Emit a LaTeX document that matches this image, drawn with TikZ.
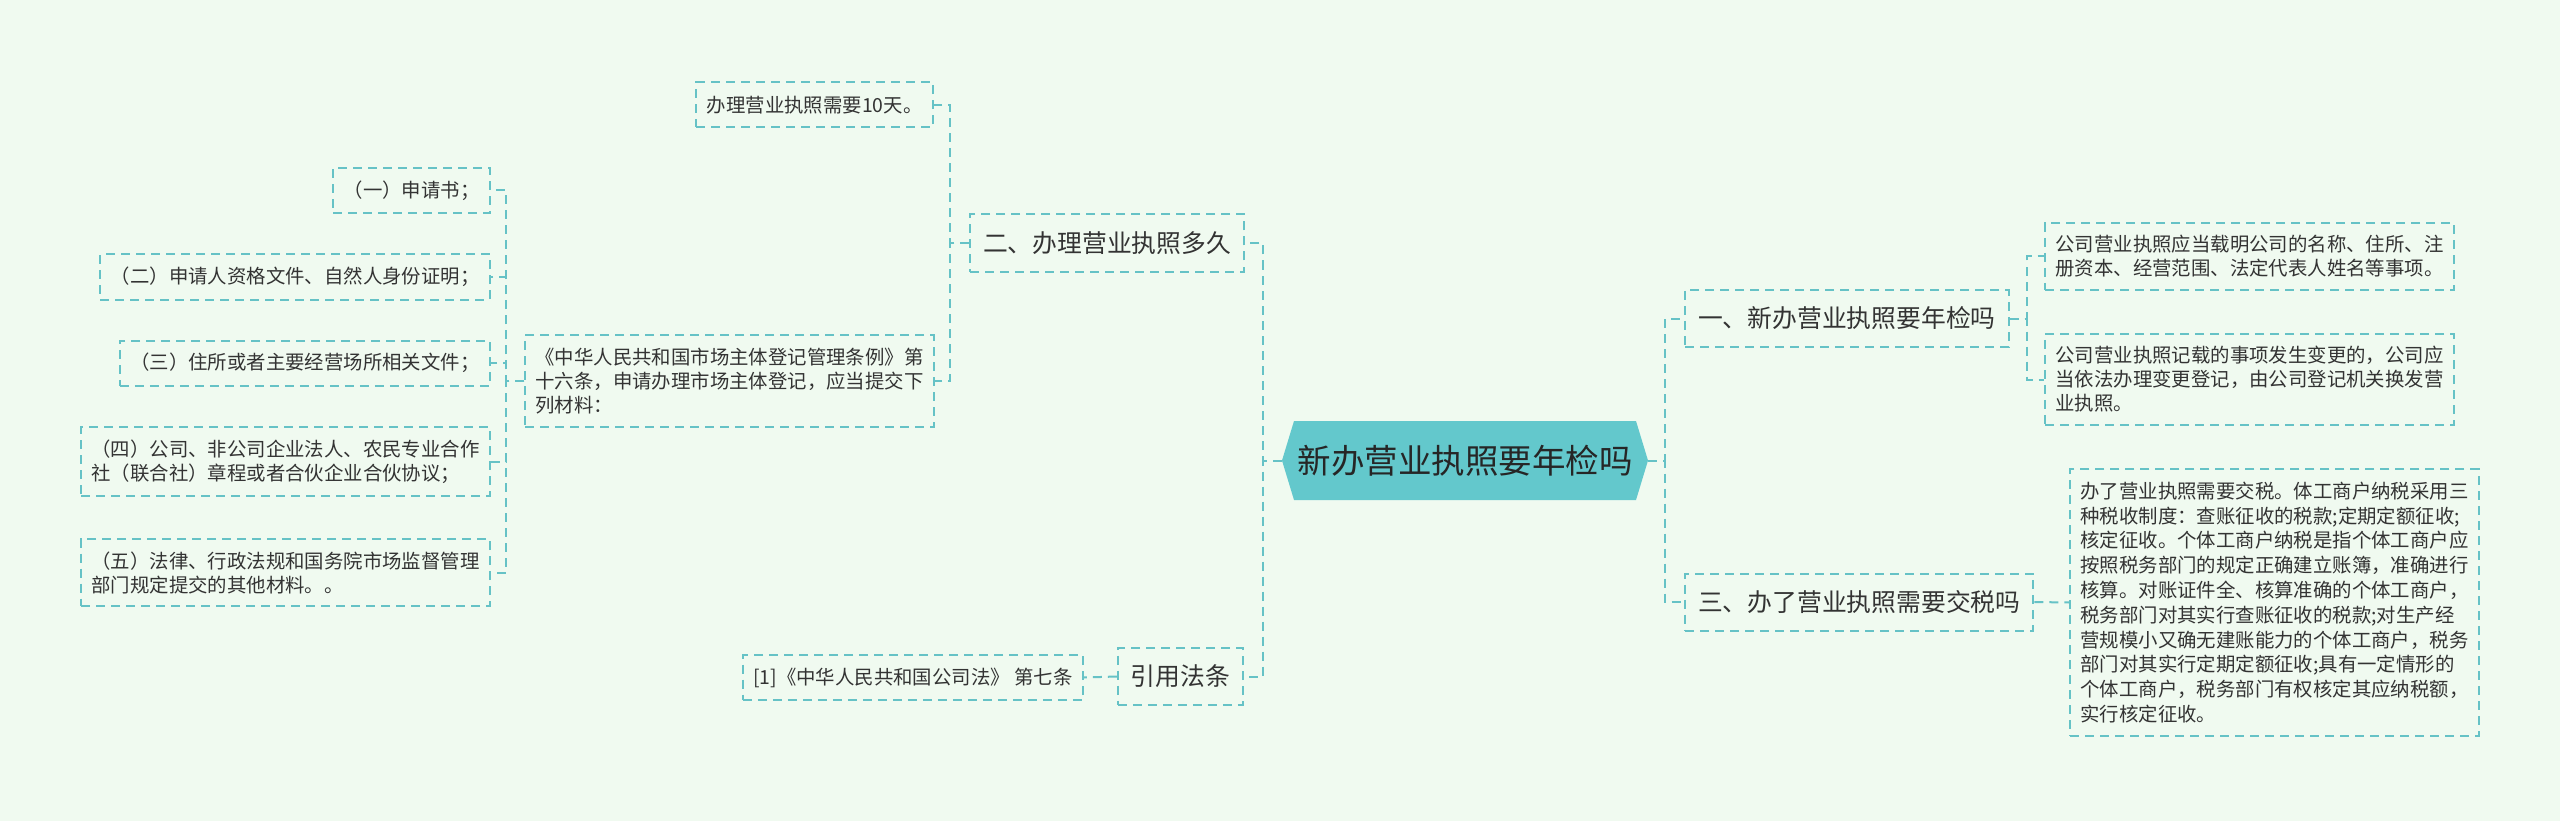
\documentclass[tikz,border=0pt]{standalone}
\usepackage{fontspec}
\setmainfont{Noto Sans CJK SC}
\definecolor{bgmint}{HTML}{F0FAF0}
\definecolor{tealline}{HTML}{66C2C6}
\definecolor{rootfill}{HTML}{63C8CC}
\definecolor{inkgray}{HTML}{333333}

\begin{document}
\begin{tikzpicture}[x=1pt, y=-1pt,
  link/.style={draw=tealline, line width=2pt, dash pattern=on 9pt off 6pt},
  topic/.style={link, text=inkgray, font=\fontsize{24.8}{30}\selectfont, inner xsep=13pt, minimum height=57pt},
  leaf/.style={link, text=inkgray, font=\fontsize{19.4}{24}\selectfont, align=left, inner xsep=10.5pt, inner ysep=12.5pt, minimum height=45pt},
  rootbox/.style={minimum width=366pt, minimum height=79pt, inner sep=0pt, text=black!85, font=\fontsize{33.5}{40}\selectfont}]
  % canvas
  \path[use as bounding box, fill=bgmint] (0,0) rectangle (2560,821);
  % centre topic
  \fill[rootfill] (1282,460.5) -- (1294,421) -- (1636,421) -- (1648,460.5) -- (1636,500) -- (1294,500) -- cycle;
  \node[rootbox] (root) at (1465,460.5) {新办营业执照要年检吗};
  % main branches
  \node[topic, anchor=west] (q1) at (1684,318.5) {一、新办营业执照要年检吗};
  \node[topic, anchor=east] (q2) at (1245,243) {二、办理营业执照多久};
  \node[topic, anchor=west] (q3) at (1684,602) {三、办了营业执照需要交税吗};
  \node[topic, anchor=east] (refs) at (1244,676.5) {引用法条};
  % right leaves
  \node[leaf, anchor=west] (a1) at (2044,256.5) {公司营业执照应当载明公司的名称、住所、注\\册资本、经营范围、法定代表人姓名等事项。};
  \node[leaf, anchor=west] (a2) at (2044,379.5) {公司营业执照记载的事项发生变更的，公司应\\当依法办理变更登记，由公司登记机关换发营\\业执照。};
  \node[leaf, anchor=west, font=\fontsize{19.4}{24.8}\selectfont] (a3) at (2069,602.5) {办了营业执照需要交税。体工商户纳税采用三\\种税收制度：查账征收的税款;定期定额征收;\\核定征收。个体工商户纳税是指个体工商户应\\按照税务部门的规定正确建立账簿，准确进行\\核算。对账证件全、核算准确的个体工商户，\\税务部门对其实行查账征收的税款;对生产经\\营规模小又确无建账能力的个体工商户，税务\\部门对其实行定期定额征收;具有一定情形的\\个体工商户，税务部门有权核定其应纳税额，\\实行核定征收。};
  % left leaves
  \node[leaf, anchor=east] (days) at (934,105) {办理营业执照需要10天。};
  \node[leaf, anchor=east] (rule) at (935,381) {《中华人民共和国市场主体登记管理条例》第\\十六条，申请办理市场主体登记，应当提交下\\列材料：};
  \node[leaf, anchor=east] (m1) at (491,190.5) {（一）申请书；};
  \node[leaf, anchor=east] (m2) at (491,277) {（二）申请人资格文件、自然人身份证明；};
  \node[leaf, anchor=east] (m3) at (491,363) {（三）住所或者主要经营场所相关文件；};
  \node[leaf, anchor=east] (m4) at (491,461.5) {（四）公司、非公司企业法人、农民专业合作\\社（联合社）章程或者合伙企业合伙协议；};
  \node[leaf, anchor=east] (m5) at (491,572.5) {（五）法律、行政法规和国务院市场监督管理\\部门规定提交的其他材料。。};
  \node[leaf, anchor=east] (law) at (1084,677.5) {[1]《中华人民共和国公司法》 第七条};
  % connectors, left side
  \draw[link] (root.west) -- ++(-19,0) |- (q2.east);
  \draw[link] (root.west) -- ++(-19,0) |- (refs.east);
  \draw[link] (q2.west) -- ++(-19,0) |- (days.east);
  \draw[link] (q2.west) -- ++(-19,0) |- (rule.east);
  \foreach \m in {m1,m2,m3,m4,m5} {
    \draw[link] (rule.west) -- ++(-18,0) |- (\m.east);
  }
  \draw[link] (refs.west) -- (law.east);
  % connectors, right side
  \draw[link] (root.east) -- ++(17,0) |- (q1.west);
  \draw[link] (root.east) -- ++(17,0) |- (q3.west);
  \draw[link] (q1.east) -- ++(17,0) |- (a1.west);
  \draw[link] (q1.east) -- ++(17,0) |- (a2.west);
  \draw[link] (q3.east) -- (a3.west);
\end{tikzpicture}
\end{document}
